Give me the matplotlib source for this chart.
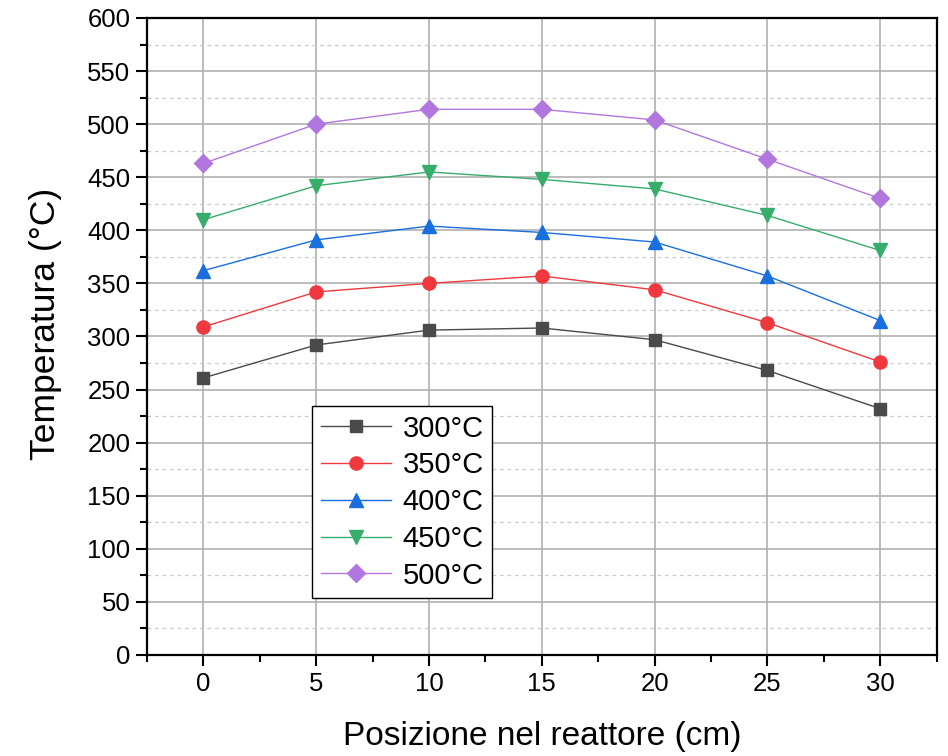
import matplotlib
matplotlib.use("Agg")
import matplotlib.pyplot as plt
from matplotlib.ticker import MultipleLocator

plt.rcParams['font.family'] = ['Liberation Sans', 'DejaVu Sans']

# posizione nel reattore (cm)
posizione = [0, 5, 10, 15, 20, 25, 30]

# temperature
t300 = [261, 292, 306, 308, 297, 268, 232]
t350 = [309, 342, 350, 357, 344, 313, 276]
t400 = [362, 391, 404, 398, 389, 357, 315]
t450 = [410, 442, 455, 448, 439, 414, 381]
t500 = [463, 500, 514, 514, 504, 467, 430]

etichette = ['300°C', '350°C', '400°C', '450°C', '500°C']
serie = [t300, t350, t400, t450, t500]
colori = ['#4a4a4a', '#f0393f', '#1a6fdf', '#37ad6b', '#b177de']
marker = ['s', 'o', '^', 'v', 'D']
msize = [9, 9.5, 10, 10, 9]

fig = plt.figure(figsize=(9.48, 7.56), dpi=100)
ax = fig.add_axes([0.155, 0.1336, 0.833, 0.8426])

for y, lab, c, m, s in zip(serie, etichette, colori, marker, msize):
    ax.plot(posizione, y, color=c, marker=m, markersize=s, linewidth=1,
            label=lab, zorder=3)

ax.set_xlim(-2.5, 32.5)
ax.set_ylim(0, 600)
ax.xaxis.set_major_locator(MultipleLocator(5))
ax.xaxis.set_minor_locator(MultipleLocator(2.5))
ax.yaxis.set_major_locator(MultipleLocator(50))
ax.yaxis.set_minor_locator(MultipleLocator(25))

# griglia principale continua, secondaria tratteggiata solo su y
ax.grid(which='major', color='#b0b0b0', linewidth=1.2, linestyle='-')
ax.grid(which='minor', axis='y', color='#cccccc', linewidth=0.9, linestyle=(0, (3, 3)))
ax.set_axisbelow(True)

for sp in ax.spines.values():
    sp.set_linewidth(1.6)
    sp.set_color('black')

ax.tick_params(which='major', direction='out', length=8, width=1.5, labelsize=18.5,
               top=False, right=False, pad=4)
ax.tick_params(which='minor', direction='out', length=5, width=1.5,
               top=False, right=False)

ax.set_xlabel('Posizione nel reattore (cm)', fontsize=24, labelpad=18)
ax.set_ylabel('Temperatura (°C)', fontsize=25.5)
ax.yaxis.set_label_coords(-0.107, 0.52)

leg = ax.legend(loc='upper left', bbox_to_anchor=(0.209, 0.391), borderaxespad=0,
                fontsize=21, frameon=True, fancybox=False, handlelength=2.4,
                labelspacing=0.3, borderpad=0.3, handletextpad=0.4)
leg.get_frame().set_edgecolor('black')
leg.get_frame().set_linewidth(1.0)
leg.get_frame().set_alpha(1)

fig.savefig('out.png', dpi=100)
